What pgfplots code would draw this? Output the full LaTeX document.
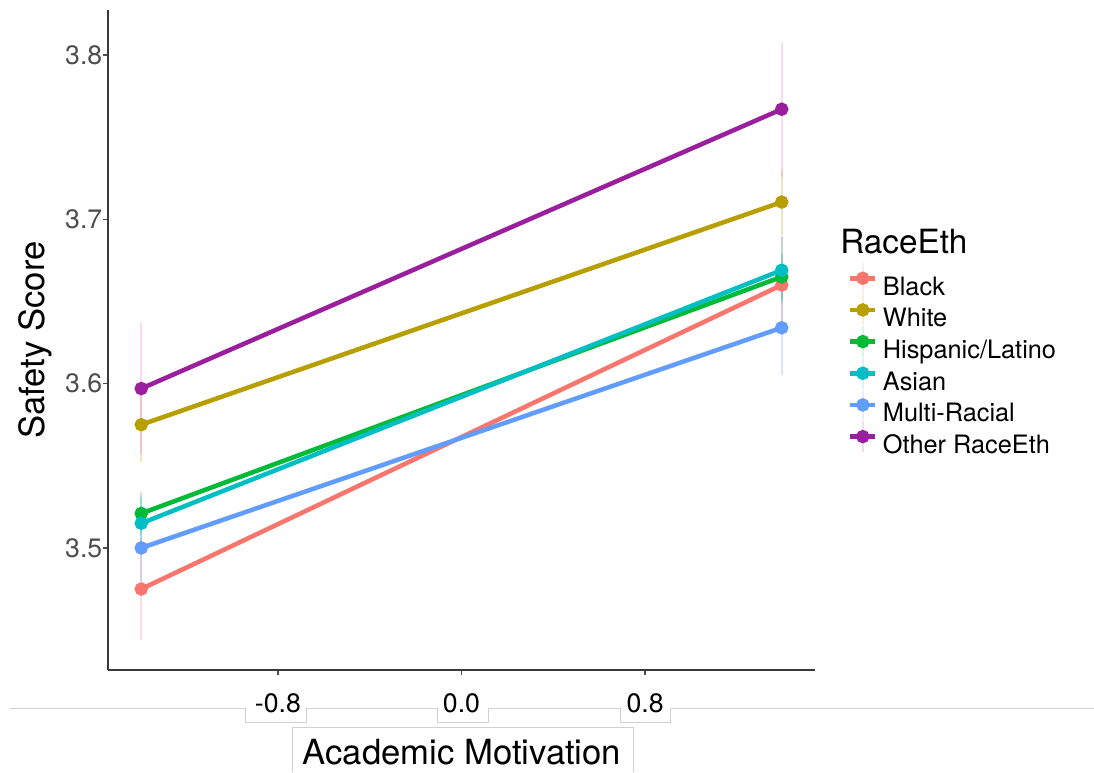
\documentclass[border=0pt]{standalone}
\usepackage{pgfplots}
\pgfplotsset{compat=1.18}
\usepackage{fontspec}
\setmainfont{TeX Gyre Heros}
\definecolor{cBlack}{HTML}{F8766D}
\definecolor{cWhite}{HTML}{B79F00}
\definecolor{cHisp}{HTML}{00BA38}
\definecolor{cAsian}{HTML}{00BFC4}
\definecolor{cMulti}{HTML}{619CFF}
\definecolor{cOther}{HTML}{9A1F9C}
\definecolor{cOtherEB}{HTML}{F564E3}
\definecolor{axisgray}{HTML}{3A3A3A}
\definecolor{tickgray}{HTML}{4D4D4D}
\definecolor{boxgray}{HTML}{D0D0D0}
\begin{document}
\begin{tikzpicture}
\useasboundingbox (-81pt,-76.5pt) rectangle (739.5pt,502.5pt);
% bottom strip (line and label boxes)
\draw[boxgray, line width=0.75pt] (-73.5pt,-28.5pt) -- (739.5pt,-28.5pt);
\foreach \a/\b in {102.75/148.5, 246.75/285, 384/421.5}{
  \fill[white] (\a pt,-39pt) rectangle (\b pt,-20pt);
  \draw[boxgray, line width=0.75pt] (\a pt,-28.5pt) -- (\a pt,-39pt) -- (\b pt,-39pt) -- (\b pt,-28.5pt);
}
\draw[boxgray, line width=0.75pt] (138pt,-76.5pt) -- (138pt,-42.75pt) -- (393.75pt,-42.75pt) -- (393.75pt,-76.5pt);
\begin{axis}[
  at={(0pt,0pt)}, anchor=south west,
  width=530.25pt, height=495pt, scale only axis,
  xmin=-1.54, xmax=1.54, ymin=3.4257, ymax=3.8274,
  axis x line*=bottom, axis y line*=left,
  axis line style={axisgray, line width=1.5pt},
  xtick={-0.8,0,0.8}, xticklabels={-0.8,0.0,0.8},
  ytick={3.5,3.6,3.7,3.8}, yticklabels={3.5,3.6,3.7,3.8},
  tick align=outside, major tick length=3.75pt,
  tick style={tickgray, line width=1pt},
  yticklabel style={font=\fontsize{20}{24}\selectfont, text=tickgray, xshift=3pt},
  xticklabel style={font=\fontsize{20}{24}\selectfont, text=black, anchor=base, yshift=-28pt},
  xlabel={Academic Motivation},
  xlabel style={font=\fontsize{26}{30}\selectfont, at={(axis description cs:0.5007,-0.1242)}, anchor=center},
  ylabel={Safety Score},
  ylabel style={font=\fontsize{26}{30}\selectfont, at={(axis description cs:-0.1033,0.5)}, anchor=center, rotate=0},
  legend style={at={(axis description cs:1.0467,0.6044)}, anchor=north west, draw=none, fill=none,
    font=\fontsize{19}{22}\selectfont, row sep=0pt, column sep=4pt, inner sep=0pt, outer sep=0pt,
    nodes={inner sep=0pt, text height=18pt, text depth=5.75pt}},
  legend cell align=left,
  legend image code/.code={
    \draw[#1, line width=1.5pt, opacity=0.15, overlay] (9.4pt,-5pt) -- (9.4pt,18pt);
    \draw[mark repeat=2, mark phase=2, #1] plot coordinates {(0pt,6.5pt) (9.4pt,6.5pt) (18.75pt,6.5pt)};
  },
  every axis plot/.append style={line width=3.4pt, mark=*, mark size=3.3pt},
  error bars/y dir=both, error bars/y explicit,
  error bars/error mark=none,
]
\addplot[color=cBlack, error bars/error bar style={line width=1.5pt, opacity=0.25, cBlack}]
  coordinates {(-1.395,3.475) +- (0,0.031) (1.395,3.660) +- (0,0.030)};
\addlegendentry{Black}
\addplot[color=cWhite, error bars/error bar style={line width=1.5pt, opacity=0.25, cWhite}]
  coordinates {(-1.395,3.575) +- (0,0.023) (1.395,3.7105) +- (0,0.020)};
\addlegendentry{White}
\addplot[color=cHisp, error bars/error bar style={line width=1.5pt, opacity=0.25, cHisp}]
  coordinates {(-1.395,3.521) +- (0,0.013) (1.395,3.665) +- (0,0.014)};
\addlegendentry{Hispanic/Latino}
\addplot[color=cAsian, error bars/error bar style={line width=1.5pt, opacity=0.25, cAsian}]
  coordinates {(-1.395,3.515) +- (0,0.016) (1.395,3.669) +- (0,0.020)};
\addlegendentry{Asian}
\addplot[color=cMulti, error bars/error bar style={line width=1.5pt, opacity=0.25, cMulti}]
  coordinates {(-1.395,3.500) +- (0,0.020) (1.395,3.634) +- (0,0.029)};
\addlegendentry{Multi-Racial}
\addplot[color=cOther, error bars/error bar style={line width=1.5pt, opacity=0.25, cOtherEB}]
  coordinates {(-1.395,3.597) +- (0,0.040) (1.395,3.767) +- (0,0.041)};
\addlegendentry{Other RaceEth}
\end{axis}
\node[anchor=west, font=\fontsize{25}{30}\selectfont, inner sep=0pt] at (549pt,321pt) {RaceEth};
\end{tikzpicture}
\end{document}
